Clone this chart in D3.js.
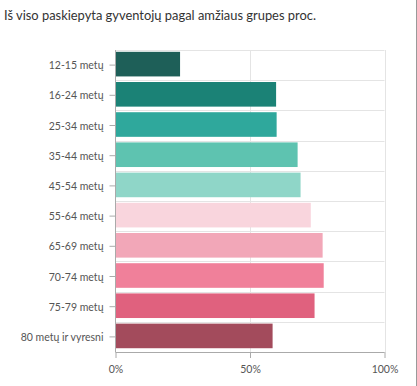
<!DOCTYPE html>
<html><head><meta charset="utf-8">
<script src="https://cdn.jsdelivr.net/npm/d3@7"></script>
<style>
html,body{margin:0;padding:0;background:#fff;}
svg{display:block;font-family:Lato, "Open Sans", sans-serif;}
</style></head>
<body>
<script>
const title = "Iš viso paskiepyta gyventojų pagal amžiaus grupes proc.";
const categories = ["12-15 metų","16-24 metų","25-34 metų","35-44 metų","45-54 metų","55-64 metų","65-69 metų","70-74 metų","75-79 metų","80 metų ir vyresni"];
const values = [24.0, 59.7, 59.9, 67.7, 68.8, 72.6, 77.0, 77.4, 74.0, 58.4];
const colors = ["#1e5f58","#1b8276","#2fa89c","#5ec3b0","#8fd6c8","#f9d5dd","#f2a7b8","#f0809a","#e0617e","#a34b5c"];
const xTicks = [0, 50, 100];

const W = 417, H = 386;
const svg = d3.select("body").append("svg").attr("width", W).attr("height", H);

const x = d3.scaleLinear().domain([0, 100]).range([115.5, 384.5]);
const y = d3.scaleBand().domain(categories).range([50, 352]).paddingInner(0).paddingOuter(0);

// right frame line
svg.append("line").attr("x1", 416.5).attr("x2", 416.5).attr("y1", 0).attr("y2", H)
  .attr("stroke", "#9a9a9a").attr("stroke-width", 1);

svg.append("text").attr("x", 4).attr("y", 19.5).attr("fill", "#333")
  .style("font-size", "12.9px").text(title);

// horizontal gridlines at band boundaries
const bounds = categories.map(c => y(c));
svg.append("g").selectAll("line").data(bounds).join("line")
  .attr("x1", x(0)).attr("x2", x(100))
  .attr("y1", d => Math.round(d) + 0.5).attr("y2", d => Math.round(d) + 0.5)
  .attr("stroke", "#e4e4e4");

// vertical gridlines
svg.append("g").selectAll("line").data(xTicks.slice(1)).join("line")
  .attr("x1", d => Math.round(x(d)) + 0.5).attr("x2", d => Math.round(x(d)) + 0.5)
  .attr("y1", 50).attr("y2", 352)
  .attr("stroke", "#e4e4e4");

// bars
const bw = y.bandwidth();
svg.append("g").selectAll("rect").data(values).join("rect")
  .attr("x", x(0))
  .attr("y", (d, i) => y(categories[i]) + bw * 0.06)
  .attr("width", d => x(d) - x(0))
  .attr("height", bw * 0.815)
  .attr("fill", (d, i) => colors[i]);

// left axis
const yAxis = d3.axisLeft(y).tickSize(6).tickPadding(6);
const gy = svg.append("g").attr("transform", `translate(${x(0)},0)`).call(yAxis);
gy.select(".domain").attr("stroke", "#aaa").attr("d", `M0,50V352`);
gy.selectAll(".tick line").attr("stroke", "#aaa");
gy.selectAll(".tick text").attr("fill", "#555").style("font-size", "10.5px")
  .style("font-family", "Lato, 'Open Sans', sans-serif").attr("dy", "0.38em");

// bottom axis
const xAxis = d3.axisBottom(x).tickValues(xTicks).tickFormat(d => d + "%").tickSize(6).tickPadding(8);
const gx = svg.append("g").attr("transform", `translate(0,352)`).call(xAxis);
gx.select(".domain").attr("stroke", "#aaa").attr("d", `M${x(0)},0.5H${x(100)}`);
gx.selectAll(".tick line").attr("stroke", "#aaa");
gx.selectAll(".tick text").attr("fill", "#555").style("font-size", "10.5px")
  .style("font-family", "Lato, 'Open Sans', sans-serif");
</script>
</body></html>
